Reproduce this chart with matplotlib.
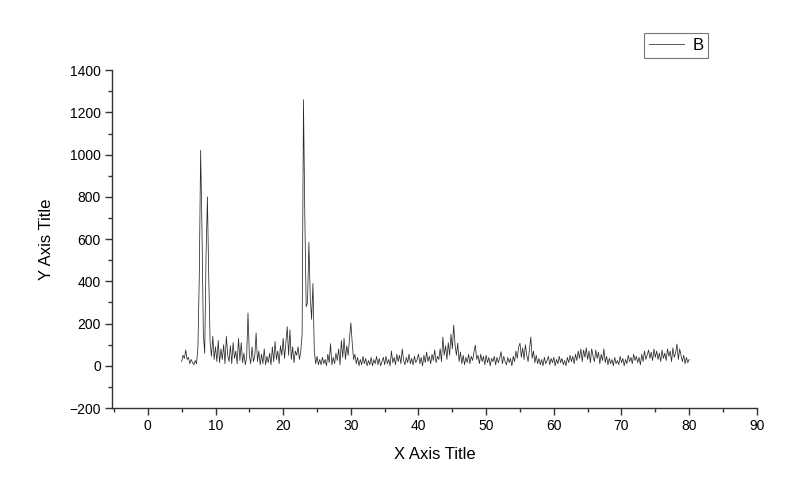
import numpy as np
import matplotlib
matplotlib.use("Agg")
import matplotlib.pyplot as plt
from matplotlib.ticker import MultipleLocator

plt.rcParams['font.family'] = ['Liberation Sans', 'DejaVu Sans']

# two-theta values: 5.0 to 80.0 in steps of 0.2
x_start, x_step = 5.0, 0.2
intensity = [
    20, 50, 35, 75, 30,
    40, 10, 30, 15, 5,
    25, 10, 90, 420, 1020,
    640, 150, 60, 520, 800,
    420, 110, 45, 140, 30,
    90, 20, 120, 15, 80,
    30, 100, 10, 140, 50,
    20, 95, 10, 110, 35,
    70, 10, 130, 25, 110,
    15, 60, 5, 40, 250,
    50, 10, 90, 20, 45,
    155, 20, 70, 5, 55,
    10, 80, 5, 45, 15,
    60, 5, 90, 20, 115,
    30, 70, 10, 95, 50,
    130, 35, 110, 185, 50,
    170, 30, 90, 15, 70,
    50, 90, 30, 70, 150,
    1260, 700, 280, 300, 585,
    330, 220, 390, 70, 10,
    45, 5, 30, 5, 40,
    10, 30, 0, 55, 15,
    105, 5, 40, 10, 60,
    25, 80, 5, 120, 40,
    130, 30, 95, 50, 125,
    204, 110, 30, 55, 10,
    40, 0, 30, 5, 45,
    10, 35, 0, 25, 5,
    40, 0, 30, 10, 45,
    5, 35, 0, 20, 40,
    5, 45, 10, 30, 0,
    70, 15, 40, 5, 55,
    20, 50, 10, 80, 25,
    5, 40, 15, 55, 10,
    35, 5, 45, 15, 30,
    55, 10, 40, 0, 50,
    15, 65, 20, 45, 10,
    55, 25, 75, 15, 45,
    30, 80, 20, 136, 50,
    95, 30, 110, 50, 150,
    80, 193, 100, 50, 107,
    20, 65, 10, 50, 5,
    40, 15, 55, 10, 45,
    25, 65, 98, 30, 50,
    10, 55, 20, 45, 5,
    50, 15, 40, 0, 35,
    20, 45, 5, 40, 15,
    35, 67, 10, 45, 20,
    5, 40, 15, 35, 0,
    45, 20, 70, 35, 90,
    107, 40, 85, 30, 100,
    50, 20, 80, 136, 35,
    70, 15, 50, 10, 35,
    5, 30, 0, 40, 10,
    25, 45, 5, 35, 15,
    40, 0, 30, 10, 45,
    15, 35, 5, 25, 0,
    40, 15, 50, 20, 45,
    10, 55, 25, 70, 35,
    80, 20, 75, 40, 85,
    30, 70, 15, 80, 45,
    20, 75, 35, 65, 10,
    55, 25, 80, 15, 45,
    5, 35, 10, 30, 0,
    40, 10, 25, 5, 45,
    15, 35, 0, 30, 10,
    50, 20, 40, 10, 55,
    25, 45, 15, 40, 5,
    55, 20, 70, 30, 50,
    75, 35, 65, 25, 80,
    40, 70, 30, 60, 20,
    75, 35, 60, 25, 80,
    45, 70, 20, 85, 40,
    60, 103, 30, 80, 50,
    20, 50, 10, 40, 15,
    30,
]
series_name = "B"
x_ticks = [0, 10, 20, 30, 40, 50, 60, 70, 80, 90]
y_ticks = [-200, 0, 200, 400, 600, 800, 1000, 1200, 1400]

x = x_start + x_step * np.arange(len(intensity))

fig = plt.figure(figsize=(8, 4.94), dpi=100)
ax = fig.add_axes([0.14, 0.174, 0.806, 0.684])
line, = ax.plot(x, intensity, color='#2a2a2a', lw=0.55, label=series_name)

ax.set_xlim(-5.3, 90)
ax.set_ylim(-200, 1400)
ax.set_xticks(x_ticks)
ax.set_yticks(y_ticks)
ax.xaxis.set_minor_locator(MultipleLocator(5))
ax.yaxis.set_minor_locator(MultipleLocator(100))
for s in ['top', 'right']:
    ax.spines[s].set_visible(False)
for s in ['left', 'bottom']:
    ax.spines[s].set_linewidth(1.0)
    ax.spines[s].set_color('#333333')
ax.tick_params(which='major', direction='out', length=5, width=1, color='#333333',
               labelsize=10, pad=3)
ax.tick_params(which='minor', direction='out', length=3, width=1, color='#333333')
ax.set_xlabel('X Axis Title', fontsize=12, labelpad=10)
ax.set_ylabel('Y Axis Title', fontsize=12, labelpad=11)

leg = fig.legend(handles=[line], loc='upper left', bbox_to_anchor=(644/800, 1 - 33/494),
                 frameon=True, fancybox=False, fontsize=12, handlelength=2.1,
                 borderpad=0.3, handletextpad=0.5, borderaxespad=0)
leg.get_frame().set_edgecolor('#555555')
leg.get_frame().set_linewidth(0.8)

fig.savefig('out.png', dpi=100)
